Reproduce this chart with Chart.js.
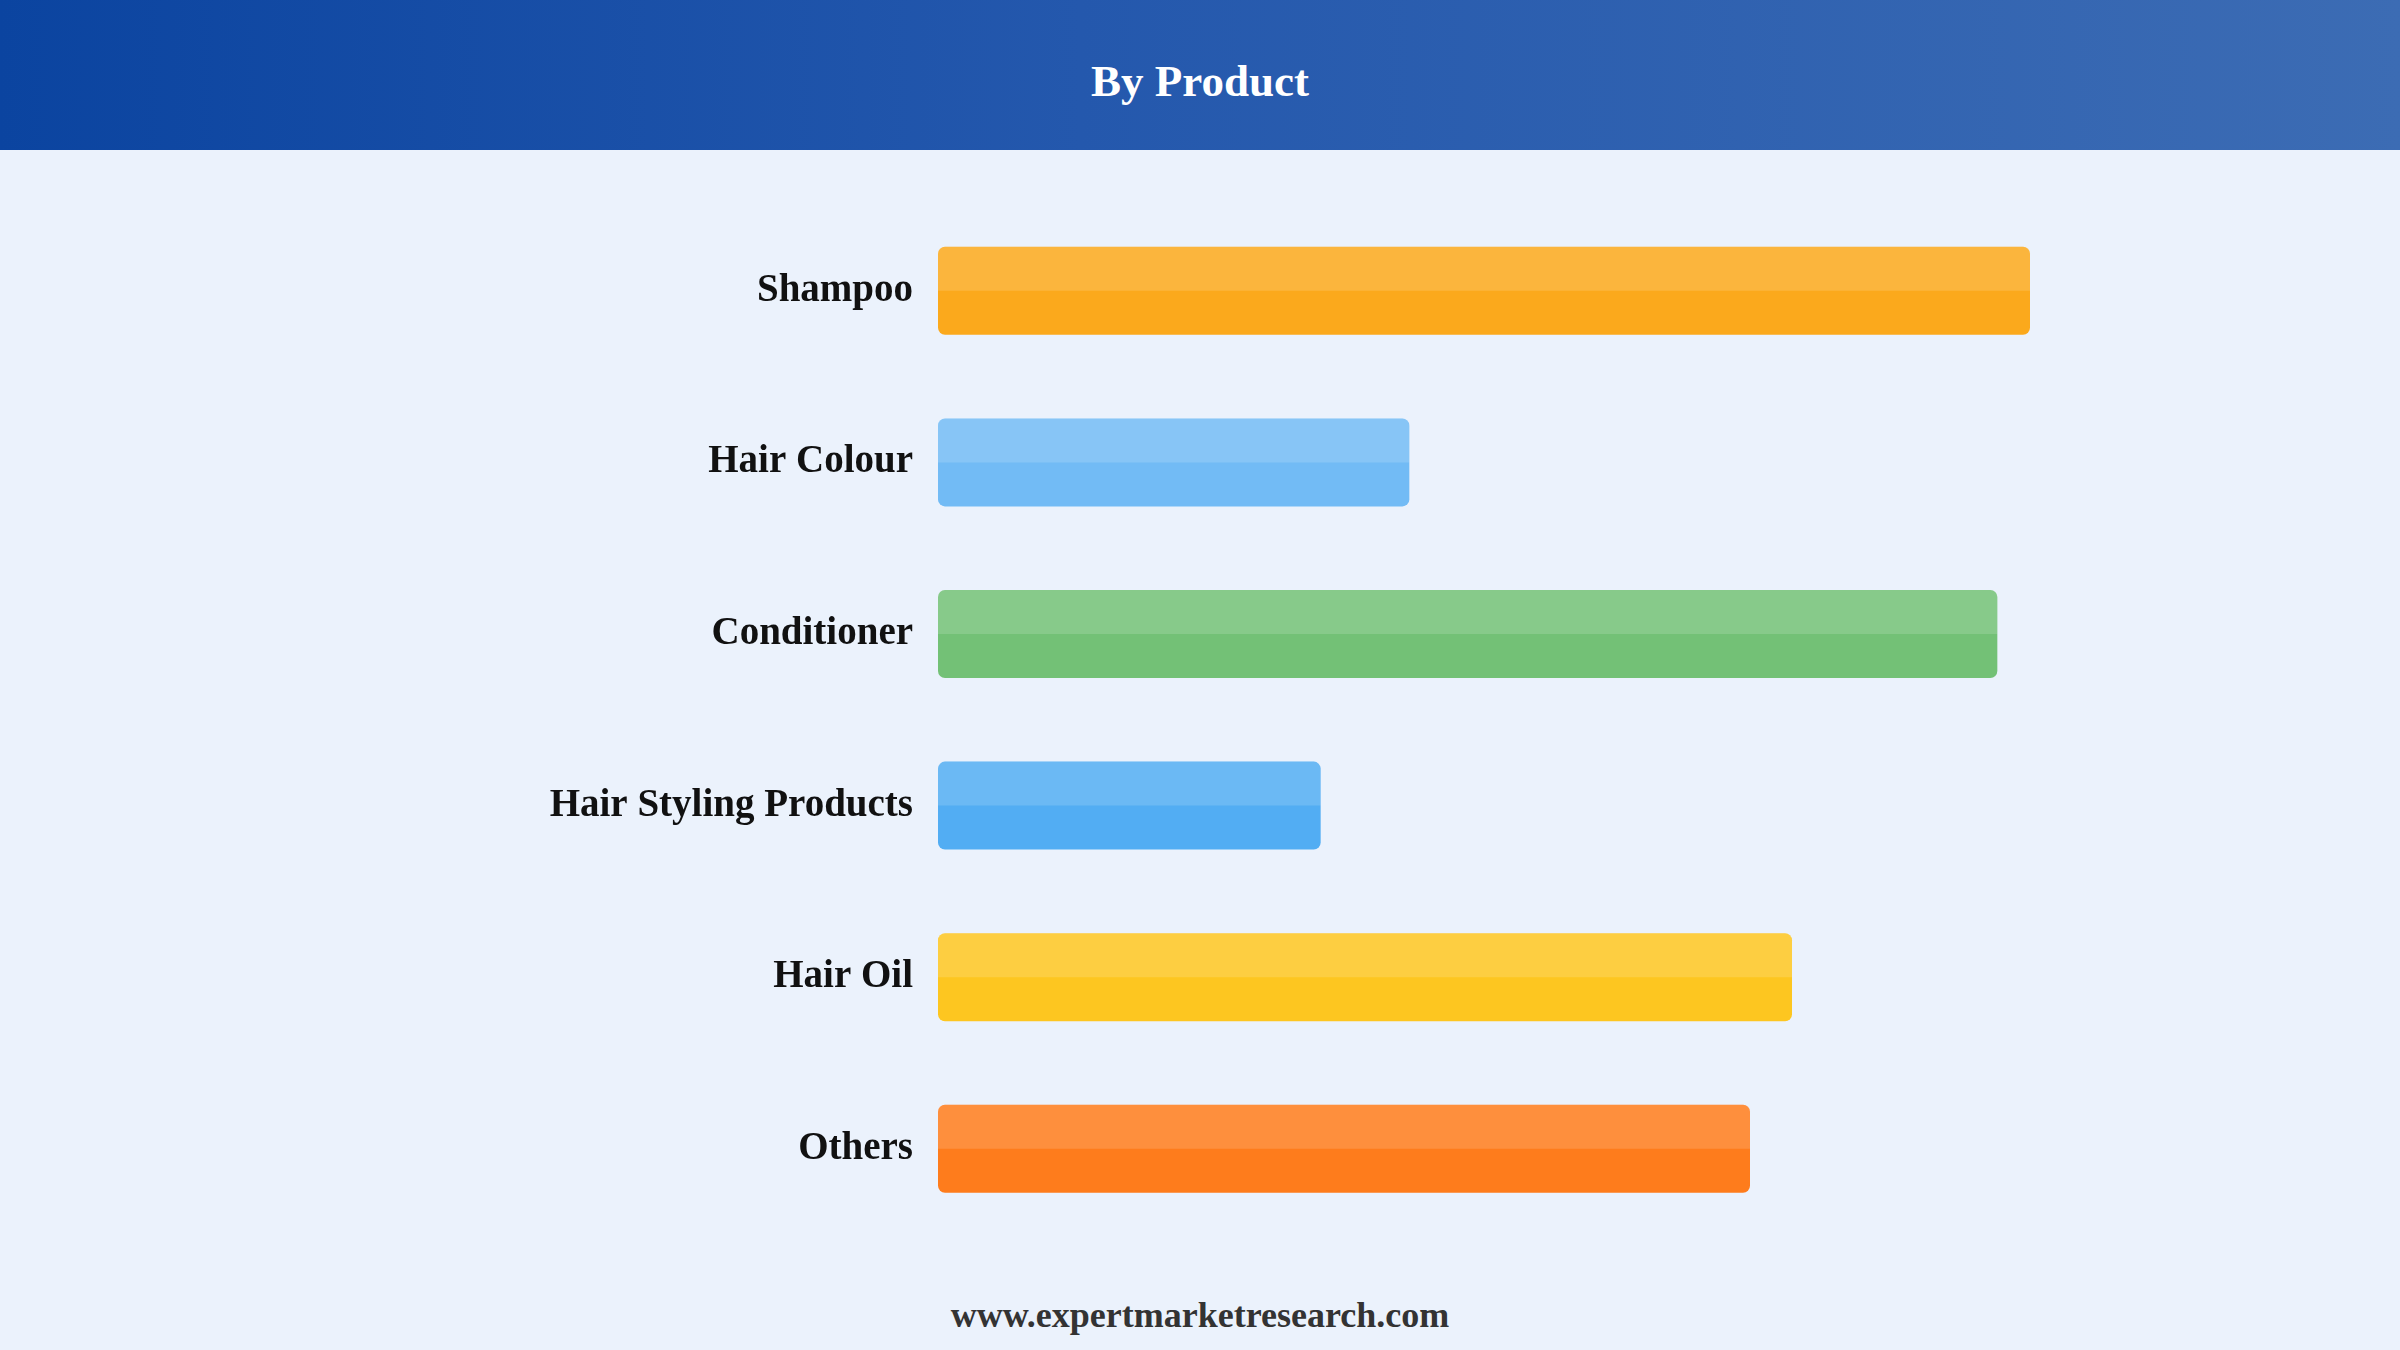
<!DOCTYPE html>
<html>
<head>
<meta charset="utf-8">
<script src="https://cdn.jsdelivr.net/npm/chart.js@4.4.0/dist/chart.umd.min.js"></script>
<style>
    html, body { margin: 0; padding: 0; }
    body {
        width: 2400px; height: 1350px; position: relative; overflow: hidden;
        background: #ebf2fc;
        font-family: 'Liberation Serif', 'Times New Roman', serif;
    }
    .header {
        position: absolute; left: 0; top: 0; width: 2400px; height: 150px;
        background: linear-gradient(to right, #0b44a0 0%, #2458ad 45%, #3c6cb4 100%);
        color: #fff; font-weight: bold; font-size: 45px;
        text-align: center; line-height: 162px;
    }
    .chart-box { position: absolute; left: 0; top: 150px; width: 2400px; height: 1133px; }
    .footer {
        position: absolute; left: 0; top: 1290px; width: 2400px; height: 50px;
        text-align: center; line-height: 50px;
        font-weight: bold; font-size: 36px; color: #333;
    }
</style>
</head>
<body>
<div class="header">By Product</div>
<div class="chart-box"><canvas id="chart"></canvas></div>
<div class="footer">www.expertmarketresearch.com</div>

<script>
// ── Data ───────────────────────────────────────────────
const categories = ['Shampoo', 'Hair Colour', 'Conditioner', 'Hair Styling Products', 'Hair Oil', 'Others'];
const shares     = [23.4, 10.1, 22.7, 8.2, 18.3, 17.4];
const barColors  = ['#fba91c', '#72bbf5', '#73c176', '#52adf3', '#fdc620', '#fe7c1c'];

// ── Top-half highlight on every bar ────────────────────
const highlight = {
    id: 'highlight',
    afterDatasetsDraw(chart) {
        const ctx = chart.ctx;
        chart.getDatasetMeta(0).data.forEach(bar => {
            const { x, y, base, height } = bar.getProps(['x', 'y', 'base', 'height'], true);
            const top = y - height / 2, r = 7;
            ctx.save();
            ctx.fillStyle = 'rgba(255,255,255,0.15)';
            ctx.beginPath();
            ctx.moveTo(base, y);
            ctx.lineTo(base, top + r);
            ctx.quadraticCurveTo(base, top, base + r, top);
            ctx.lineTo(x - r, top);
            ctx.quadraticCurveTo(x, top, x, top + r);
            ctx.lineTo(x, y);
            ctx.closePath();
            ctx.fill();
            ctx.restore();
        });
    }
};

new Chart(document.getElementById('chart'), {
    type: 'bar',
    data: {
        labels: categories,
        datasets: [{
            data: shares,
            backgroundColor: barColors,
            borderWidth: 0,
            borderRadius: 7,
            borderSkipped: false,
            categoryPercentage: 1,
            barPercentage: 0.513
        }]
    },
    options: {
        indexAxis: 'y',
        responsive: true,
        maintainAspectRatio: false,
        animation: false,
        layout: { padding: { top: 55, bottom: 16, left: 0, right: 62 } },
        plugins: { legend: { display: false }, tooltip: { enabled: false } },
        scales: {
            x: { display: false, min: 0, max: 30 },
            y: {
                afterFit: s => { s.width = 938; },
                grid: { display: false, drawTicks: false },
                border: { display: false },
                ticks: {
                    padding: 25,
                    color: '#111',
                    font: { family: 'Liberation Serif', weight: 'bold', size: 39 }
                }
            }
        }
    },
    plugins: [highlight]
});
</script>
</body>
</html>
